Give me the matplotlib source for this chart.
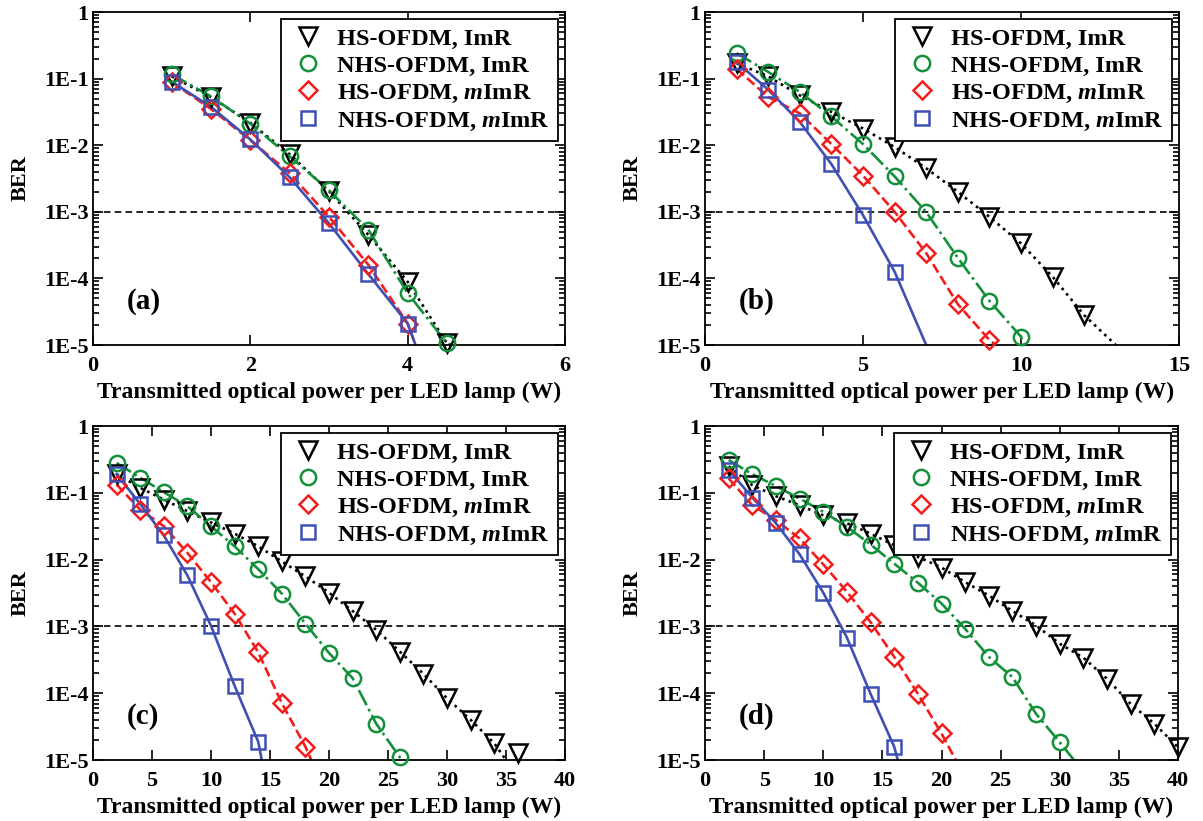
import numpy as np
import matplotlib
matplotlib.use("Agg")
import matplotlib.pyplot as plt
from matplotlib.ticker import LogLocator, FixedLocator, NullFormatter

plt.rcParams['font.family'] = ['Liberation Serif', 'DejaVu Serif']
plt.rcParams['font.weight'] = 'bold'
plt.rcParams['mathtext.fontset'] = 'custom'
plt.rcParams['mathtext.it'] = 'Liberation Serif:italic:bold'
plt.rcParams['mathtext.rm'] = 'Liberation Serif:bold'

series_labels = ['HS-OFDM, ImR', 'NHS-OFDM, ImR',
                 r'HS-OFDM, $\mathit{m}$ImR', r'NHS-OFDM, $\mathit{m}$ImR']

# ---- panel (a) ----
a_x = [1, 1.5, 2, 2.5, 3, 3.5, 4, 4.5]
a_hs_imr = [0.108, 0.053, 0.0216, 0.0073, 0.00204, 4.5e-4, 8.9e-5, 1.06e-5]
a_nhs_imr = [0.116, 0.054, 0.021, 0.0068, 0.0021, 5.4e-4, 6.0e-5, 1.06e-5]
a_x_m = [1, 1.5, 2, 2.5, 3, 3.5, 4]
a_hs_mimr = [0.089, 0.035, 0.0119, 0.0038, 8.4e-4, 1.6e-4, 2.1e-5]
a_nhs_mimr = [0.090, 0.0376, 0.0122, 0.0033, 6.7e-4, 1.16e-4, 2.1e-5]
a_line_end = [4.55, 4.55, 4.1, 4.1]

# ---- panel (b) ----
b_x_hs = [1, 2, 3, 4, 5, 6, 7, 8, 9, 10, 11, 12]
b_hs_imr = [0.17, 0.108, 0.056, 0.0316, 0.0178, 0.0094, 0.0045, 0.0020,
            8.4e-4, 3.35e-4, 1.06e-4, 2.8e-5]
b_x_nhs = [1, 2, 3, 4, 5, 6, 7, 8, 9, 10]
b_nhs_imr = [0.24, 0.126, 0.063, 0.027, 0.0104, 0.0034, 9.9e-4, 2.04e-4,
             4.6e-5, 1.33e-5]
b_x_hsm = [1, 2, 3, 4, 5, 6, 7, 8, 9]
b_hs_mimr = [0.14, 0.053, 0.030, 0.0104, 0.0035, 1.0e-3, 2.4e-4, 4.1e-5, 1.19e-5]
b_x_nhsm = [1, 2, 3, 4, 5, 6]
b_nhs_mimr = [0.178, 0.068, 0.0224, 0.0052, 8.9e-4, 1.26e-4]
b_line_end = [13.0, 10.1, 9.2, 7.0]

# ---- panel (c) ----
c_x_hs = [2, 4, 6, 8, 10, 12, 14, 16, 18, 20, 22, 24, 26, 28, 30, 32, 34, 36]
c_hs_imr = [0.19, 0.119, 0.079, 0.053, 0.036, 0.0245, 0.0158, 0.0094, 0.0056,
            0.0032, 0.0017, 8.9e-4, 4.2e-4, 1.95e-4, 8.4e-5, 4.0e-5, 1.78e-5, 1.26e-5]
c_x_nhs = [2, 4, 6, 8, 10, 12, 14, 16, 18, 20, 22, 24, 26]
c_nhs_imr = [0.28, 0.168, 0.102, 0.063, 0.0316, 0.0158, 0.0072, 0.0031,
             1.1e-3, 4.0e-4, 1.68e-4, 3.5e-5, 1.1e-5]
c_x_hsm = [2, 4, 6, 8, 10, 12, 14, 16, 18]
c_hs_mimr = [0.133, 0.056, 0.0316, 0.0126, 0.0046, 0.00155, 4.1e-4, 7.1e-5, 1.58e-5]
c_x_nhsm = [2, 4, 6, 8, 10, 12, 14]
c_nhs_mimr = [0.19, 0.068, 0.023, 0.0058, 1.02e-3, 1.29e-4, 1.88e-5]
c_line_end = [35.0, 26.3, 18.5, 14.3]

# ---- panel (d) ----
d_x_hs = [2, 4, 6, 8, 10, 12, 14, 16, 18, 20, 22, 24, 26, 28, 30, 32, 34, 36, 38, 40]
d_hs_imr = [0.25, 0.13, 0.089, 0.065, 0.046, 0.035, 0.0245, 0.0164, 0.011, 0.0076,
            0.0046, 0.0029, 0.0017, 1.03e-3, 5.5e-4, 3.4e-4, 1.64e-4, 6.9e-5, 3.5e-5, 1.55e-5]
d_x_nhs = [2, 4, 6, 8, 10, 12, 14, 16, 18, 20, 22, 24, 26, 28, 30]
d_nhs_imr = [0.31, 0.19, 0.126, 0.082, 0.052, 0.031, 0.0168, 0.0087, 0.0045,
             0.0022, 9.2e-4, 3.5e-4, 1.74e-4, 4.9e-5, 1.84e-5]
d_x_hsm = [2, 4, 6, 8, 10, 12, 14, 16, 18, 20]
d_hs_mimr = [0.164, 0.065, 0.039, 0.0207, 0.0085, 0.0033, 1.16e-3, 3.5e-4, 9.8e-5, 2.5e-5]
d_x_nhsm = [2, 4, 6, 8, 10, 12, 14, 16]
d_nhs_mimr = [0.22, 0.085, 0.035, 0.012, 0.0032, 6.8e-4, 9.8e-5, 1.58e-5]
d_line_end = [41.0, 31.2, 21.2, 16.3]

panel_tags = ['(a)', '(b)', '(c)', '(d)']
x_ticks = [[0, 2, 4, 6], [0, 5, 10, 15], list(range(0, 41, 5)), list(range(0, 41, 5))]
y_ticks = [1e-5, 1e-4, 1e-3, 1e-2, 1e-1, 1]
y_ticklabels = ['1E-5', '1E-4', '1E-3', '1E-2', '1E-1', '1']
ber_threshold = 1e-3

panels = [
    [(a_x, a_hs_imr), (a_x, a_nhs_imr), (a_x_m, a_hs_mimr), (a_x_m, a_nhs_mimr), a_line_end],
    [(b_x_hs, b_hs_imr), (b_x_nhs, b_nhs_imr), (b_x_hsm, b_hs_mimr), (b_x_nhsm, b_nhs_mimr), b_line_end],
    [(c_x_hs, c_hs_imr), (c_x_nhs, c_nhs_imr), (c_x_hsm, c_hs_mimr), (c_x_nhsm, c_nhs_mimr), c_line_end],
    [(d_x_hs, d_hs_imr), (d_x_nhs, d_nhs_imr), (d_x_hsm, d_hs_mimr), (d_x_nhsm, d_nhs_mimr), d_line_end],
]

colors = ['black', '#13903a', '#f51c1c', '#3f50b4']
markers = ['v', 'o', 'D', 's']
msizes = [12.5, 11, 9.5, 10.5]
lstyles = [':', '-.', '--', '-']

W, H = 1203, 821
fig = plt.figure(figsize=(W / 100, H / 100), dpi=100)
rects = [(93, 12, 565, 345), (705, 12, 1179, 345), (93, 426, 565, 760), (705, 426, 1178, 760)]

for i, (l, t, r, b) in enumerate(rects):
    ax = fig.add_axes([l / W, 1 - b / H, (r - l) / W, (b - t) / H])
    data = panels[i]
    ends = data[4]
    handles = []
    for k in range(4):
        xs, ys = np.array(data[k][0], float), np.array(data[k][1], float)
        sel = xs <= ends[k]
        lx = np.append(xs[sel], ends[k])
        ly = np.append(ys[sel], 1e-5)
        ax.plot(lx, ly, color=colors[k], ls=lstyles[k], lw=1.9, zorder=2)
        h, = ax.plot(xs, ys, ls='none', marker=markers[k], ms=msizes[k],
                     mfc='none', mec=colors[k], mew=1.8, clip_on=False, zorder=3)
        handles.append(h)
    ax.axhline(ber_threshold, color='black', ls='--', lw=1.2, dashes=(4, 2.5), zorder=1)
    ax.set_yscale('log')
    ax.set_ylim(1e-5, 1)
    ax.set_xlim(x_ticks[i][0], x_ticks[i][-1])
    ax.xaxis.set_major_locator(FixedLocator(x_ticks[i]))
    ax.set_xticklabels([str(v) for v in x_ticks[i]])
    ax.set_yticks(y_ticks)
    ax.set_yticklabels(y_ticklabels)
    ax.yaxis.set_minor_locator(LogLocator(base=10, subs=np.arange(2, 10), numticks=20))
    ax.yaxis.set_minor_formatter(NullFormatter())
    ax.tick_params(which='both', direction='in', top=True, right=True, labelsize=16, width=1.2)
    ax.tick_params(which='major', length=7)
    ax.tick_params(which='minor', length=4)
    ax.tick_params(axis='x', which='major', pad=8)
    ax.tick_params(axis='y', which='major', pad=3)
    for lab in ax.get_xticklabels() + ax.get_yticklabels():
        lab.set_fontweight('bold')
    for s in ax.spines.values():
        s.set_linewidth(1.3)
    ax.set_xlabel('Transmitted optical power per LED lamp (W)', fontsize=17,
                  fontweight='bold', labelpad=4)
    ax.set_ylabel('BER', fontsize=16, fontweight='bold', labelpad=10)
    ax.text(0.072, 0.13, panel_tags[i], transform=ax.transAxes, fontsize=21,
            fontweight='bold', va='center', ha='left')
    leg = ax.legend(handles, series_labels, loc='upper right', fontsize=17.5,
                    frameon=True, fancybox=False, edgecolor='black', framealpha=1,
                    borderaxespad=0.3, handlelength=1.5, handletextpad=0.45,
                    labelspacing=0.2, borderpad=0.35)
    leg.get_frame().set_linewidth(1.3)
    for txt in leg.get_texts():
        txt.set_fontweight('bold')

fig.savefig('out.png', dpi=100)
